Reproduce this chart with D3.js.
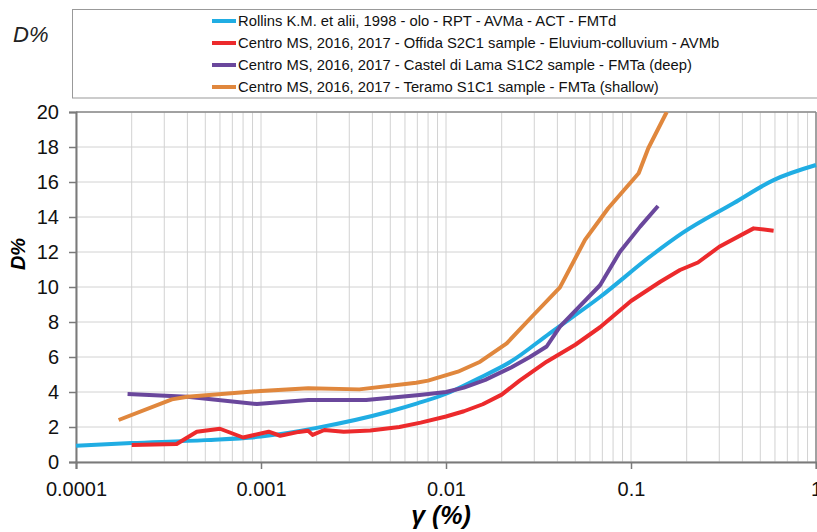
<!DOCTYPE html>
<html>
<head>
<meta charset="utf-8">
<script src="https://cdn.jsdelivr.net/npm/d3@7"></script>
<style>
body { margin: 0; background: #fff; }
text { font-family: Arial, "Liberation Sans", sans-serif; }
</style>
</head>
<body>
<script>
// shear strain (%) and damping D%
var rollinsX = [0.0001, 0.0002, 0.0005, 0.001, 0.002, 0.005, 0.007, 0.01, 0.0144, 0.0222, 0.0365, 0.068, 0.13, 0.19, 0.36, 0.59, 1.0];
var rollinsY = [0.93, 1.08, 1.25, 1.45, 1.95, 2.9, 3.35, 3.9, 4.69, 5.71, 7.37, 9.43, 11.83, 13.09, 14.8, 16.11, 16.97];

var offidaX = [0.0002, 0.00035, 0.00045, 0.0006, 0.0008, 0.0011, 0.00127, 0.0016, 0.0018, 0.0019, 0.0022, 0.0028, 0.0039, 0.0056, 0.0073, 0.01, 0.0125, 0.0158, 0.02, 0.025, 0.035, 0.05, 0.068, 0.1, 0.144, 0.184, 0.23, 0.3, 0.46, 0.59];
var offidaY = [0.97, 1.03, 1.73, 1.9, 1.4, 1.73, 1.5, 1.72, 1.78, 1.55, 1.83, 1.73, 1.8, 2.0, 2.25, 2.6, 2.9, 3.3, 3.85, 4.65, 5.73, 6.7, 7.7, 9.2, 10.3, 10.97, 11.4, 12.3, 13.35, 13.22];

var castelX = [0.00019, 0.0004, 0.00095, 0.0018, 0.0037, 0.0072, 0.01, 0.0125, 0.0163, 0.0225, 0.0284, 0.035, 0.0413, 0.068, 0.087, 0.112, 0.14];
var castelY = [3.89, 3.73, 3.31, 3.54, 3.54, 3.83, 4.0, 4.25, 4.69, 5.4, 6.0, 6.6, 7.73, 10.1, 12.0, 13.45, 14.63];

var teramoX = [0.00017, 0.00033, 0.0004, 0.001, 0.0018, 0.0034, 0.0069, 0.008, 0.0116, 0.0153, 0.0213, 0.0297, 0.0413, 0.0564, 0.0753, 0.11, 0.124, 0.156];
var teramoY = [2.4, 3.58, 3.73, 4.06, 4.21, 4.15, 4.53, 4.65, 5.16, 5.73, 6.78, 8.4, 9.98, 12.69, 14.5, 16.5, 17.93, 20.0];

var seriesNames = [
  "Rollins K.M. et alii, 1998 - olo - RPT - AVMa - ACT - FMTd",
  "Centro MS, 2016, 2017 - Offida S2C1 sample - Eluvium-colluvium - AVMb",
  "Centro MS, 2016, 2017 - Castel di Lama S1C2 sample - FMTa (deep)",
  "Centro MS, 2016, 2017 - Teramo S1C1 sample - FMTa (shallow)"
];
var seriesColors = ["#20ade3", "#ec2a2c", "#6a479c", "#e0873d"];
var xTicks = [0.0001, 0.001, 0.01, 0.1, 1];
var xTickLabels = ["0.0001", "0.001", "0.01", "0.1", "1"];
var yTicks = [0, 2, 4, 6, 8, 10, 12, 14, 16, 18, 20];

var W = 817, H = 532;
var margin = {top: 112, right: 1, bottom: 70, left: 76},
    width = W - margin.left - margin.right,
    height = H - margin.top - margin.bottom;

var svg = d3.select("body").append("svg")
    .attr("width", W)
    .attr("height", H);

var x = d3.scaleLog().domain([0.0001, 1]).range([0, width]);
var y = d3.scaleLinear().domain([0, 20]).range([height, 0]);

var g = svg.append("g")
    .attr("transform", "translate(" + margin.left + "," + margin.top + ")");

// minor + major vertical grid
var gridX = [];
xTicks.slice(0, -1).forEach(function(d) {
  for (var i = 1; i <= 9; i++) gridX.push(d * i);
});
gridX.push(1);
g.selectAll(".vgrid")
    .data(gridX)
  .enter().append("line")
    .attr("class", "vgrid")
    .attr("x1", function(d) { return x(d); })
    .attr("x2", function(d) { return x(d); })
    .attr("y1", 0)
    .attr("y2", height)
    .attr("stroke", "#d2d2d2")
    .attr("stroke-width", 1);

g.selectAll(".hgrid")
    .data(yTicks)
  .enter().append("line")
    .attr("class", "hgrid")
    .attr("x1", 0)
    .attr("x2", width)
    .attr("y1", function(d) { return y(d); })
    .attr("y2", function(d) { return y(d); })
    .attr("stroke", "#d2d2d2")
    .attr("stroke-width", 1);

// top and right frame
g.append("line").attr("x1", 0).attr("x2", width).attr("y1", 0).attr("y2", 0)
    .attr("stroke", "#8a8a8a").attr("stroke-width", 1.5);
g.append("line").attr("x1", width).attr("x2", width).attr("y1", 0).attr("y2", height)
    .attr("stroke", "#8a8a8a").attr("stroke-width", 1.5);

// axes
var xAxis = d3.axisBottom(x).tickValues(xTicks)
    .tickFormat(function(d, i) { return xTickLabels[i]; })
    .tickSize(7).tickPadding(13);
var yAxis = d3.axisLeft(y).tickValues(yTicks).tickSize(7).tickPadding(10);

var xg = g.append("g")
    .attr("transform", "translate(0," + height + ")")
    .call(xAxis);
var yg = g.append("g").call(yAxis);

[xg, yg].forEach(function(a) {
  a.select(".domain").attr("stroke", "#7a7a7a").attr("stroke-width", 2);
  a.selectAll(".tick line").attr("stroke", "#7a7a7a").attr("stroke-width", 1.5);
  a.selectAll("text").attr("font-size", "20px").attr("fill", "#111")
    .attr("font-family", "Arial, 'Liberation Sans', sans-serif");
});

// curves
svg.append("clipPath").attr("id", "plotclip")
  .append("rect").attr("x", -2).attr("y", 0).attr("width", width + 4).attr("height", height + 2);

var line = d3.line()
    .x(function(d) { return x(d[0]); })
    .y(function(d) { return y(d[1]); });
var smooth = d3.line().curve(d3.curveMonotoneX).x(line.x()).y(line.y());

var series = [
  d3.zip(rollinsX, rollinsY),
  d3.zip(offidaX, offidaY),
  d3.zip(castelX, castelY),
  d3.zip(teramoX, teramoY)
];

var curves = g.append("g").attr("clip-path", "url(#plotclip)");
curves.selectAll(".curve")
    .data(series)
  .enter().append("path")
    .attr("class", "curve")
    .attr("d", function(d, i) { return i == 0 ? smooth(d) : line(d); })
    .attr("fill", "none")
    .attr("stroke", function(d, i) { return seriesColors[i]; })
    .attr("stroke-width", 4)
    .attr("stroke-linejoin", "round");

// axis labels
svg.append("text")
    .attr("transform", "translate(25,254) rotate(-90)")
    .attr("text-anchor", "middle")
    .attr("font-size", "20px")
    .attr("font-weight", "bold")
    .attr("font-style", "italic")
    .text("D%");

svg.append("text")
    .attr("x", 441)
    .attr("y", 524)
    .attr("text-anchor", "middle")
    .attr("font-size", "25px")
    .attr("font-weight", "bold")
    .attr("font-style", "italic")
    .text("γ (%)");

svg.append("text")
    .attr("x", 13)
    .attr("y", 42)
    .attr("font-size", "22px")
    .attr("font-style", "italic")
    .attr("fill", "#222")
    .text("D%");

// legend
svg.append("rect")
    .attr("x", 72.5).attr("y", 9.5)
    .attr("width", 770).attr("height", 88.5)
    .attr("fill", "none")
    .attr("stroke", "#999")
    .attr("stroke-width", 1);

var leg = svg.selectAll(".leg")
    .data(seriesNames)
  .enter().append("g")
    .attr("class", "leg")
    .attr("transform", function(d, i) { return "translate(212," + (21 + i * 22) + ")"; });
leg.append("line")
    .attr("x1", 0).attr("x2", 24)
    .attr("stroke", function(d, i) { return seriesColors[i]; })
    .attr("stroke-width", 4);
var legText = leg.append("text")
    .attr("x", 26)
    .attr("dy", "0.36em")
    .attr("font-size", "15px")
    .attr("fill", "#111")
    .text(function(d) { return d; });

// fit the legend font so the last row is as wide as in the original
var lastW = legText.nodes()[3].getComputedTextLength();
legText.attr("font-size", (15 * 421 / lastW).toFixed(2) + "px");
</script>
</body>
</html>
